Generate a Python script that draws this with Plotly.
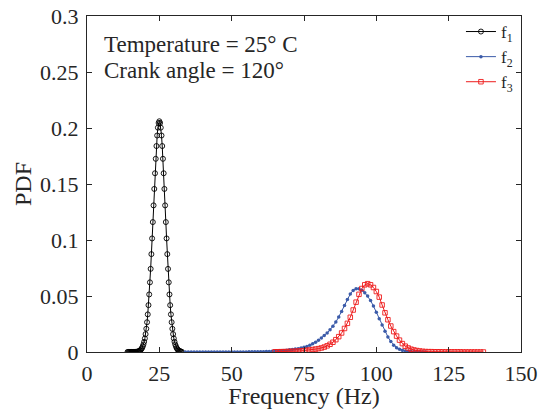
import numpy as np
import plotly.graph_objects as go

# PDF of the first three natural frequencies
# f1 sampled every 0.25 Hz from 14 Hz, f2 / f3 every 1 Hz
f1_pdf = [
    0, 0, 0, 0,
    0, 0, 0.00001, 0.00001,
    0.00002, 0.00004, 0.00006, 0.00009,
    0.00015, 0.00023, 0.00035, 0.00053,
    0.0008, 0.00118, 0.00171, 0.00246,
    0.00348, 0.00485, 0.00667, 0.00905,
    0.01211, 0.01596, 0.02074, 0.02657,
    0.03358, 0.04184, 0.05138, 0.06219,
    0.07424, 0.0874, 0.1014, 0.116,
    0.1309, 0.1456, 0.1596, 0.1725,
    0.1839, 0.1933, 0.2003, 0.2045,
    0.206, 0.2045, 0.2003, 0.1933,
    0.1839, 0.1725, 0.1596, 0.1456,
    0.1309, 0.116, 0.1014, 0.0874,
    0.0742, 0.0622, 0.0514, 0.0418,
    0.0336, 0.0266, 0.0207, 0.016,
    0.0121, 0.0091, 0.0067, 0.0049,
    0.0035, 0.0025, 0.0017, 0.0012,
    0.0008, 0.0005, 0.00035, 0.00023,
]
f2_pdf = [
    0, 0, 0, 0, 0, 0, 0, 0, 0, 0,
    0, 0, 0, 0, 0, 0, 0.0001, 0.0001, 0.0001, 0.0001,
    0.0001, 0.0001, 0.0002, 0.0002, 0.0002, 0.0003, 0.0003, 0.0003, 0.0004, 0.0005,
    0.0006, 0.0008, 0.0009, 0.0011, 0.0013, 0.0016, 0.0019, 0.0022, 0.0026, 0.0030,
    0.0035, 0.0042, 0.0050, 0.0061, 0.0073, 0.0088, 0.0106, 0.0125, 0.0147, 0.0170,
    0.0198, 0.0230, 0.0267, 0.0313, 0.0362, 0.0415, 0.0468, 0.0518, 0.0550, 0.0565,
    0.0564, 0.0552, 0.0530, 0.0500, 0.0460, 0.0410, 0.0355, 0.0297, 0.0240, 0.0185,
    0.0135, 0.0093, 0.0061, 0.0039, 0.0024, 0.0015, 0.0009, 0.0006, 0.0004, 0.0003,
    0.0002, 0.0001, 0.0001, 0.0,
]
f3_pdf = [
    0.0002, 0.0002, 0.0003, 0.0003, 0.0004, 0.0005, 0.0006, 0.0007, 0.0008, 0.0010,
    0.0012, 0.0015, 0.0018, 0.0022, 0.0026, 0.0030, 0.0036, 0.0044, 0.0055, 0.0069,
    0.0087, 0.0110, 0.0137, 0.0170, 0.0210, 0.0256, 0.0310, 0.0375, 0.0445, 0.0515,
    0.0567, 0.0600, 0.0610, 0.0600, 0.0576, 0.0540, 0.0490, 0.0420, 0.0350, 0.0288,
    0.0232, 0.0182, 0.0142, 0.0106, 0.0075, 0.0052, 0.0036, 0.0025, 0.0018, 0.0013,
    0.0009, 0.0006, 0.0004, 0.0003, 0.0003, 0.0002, 0.0002, 0.0002, 0.0001, 0.0001,
    0.0001, 0.0001, 0.0001, 0.0001, 0.0001, 0, 0, 0, 0, 0,
    0, 0, 0,
]

# frequency grids (start, step)
f1_hz = 14.0 + 0.25 * np.arange(len(f1_pdf))
f2_hz = 34.0 + 1.0 * np.arange(len(f2_pdf))
f3_hz = 65.0 + 1.0 * np.arange(len(f3_pdf))

x_ticks = [0, 25, 50, 75, 100, 125, 150]
y_ticks = [0, 0.05, 0.1, 0.15, 0.2, 0.25, 0.3]

ink = '#262626'
serif = 'Liberation Serif'

fig = go.Figure()
fig.add_trace(go.Scatter(
    x=f1_hz, y=f1_pdf, mode='lines+markers', name='f<sub>1</sub>',
    line=dict(color='black', width=1),
    marker=dict(symbol='circle-open', size=5, color='black', line=dict(width=0.9)),
))
fig.add_trace(go.Scatter(
    x=f2_hz, y=f2_pdf, mode='lines+markers', name='f<sub>2</sub>',
    line=dict(color='#3b5ba9', width=1),
    marker=dict(symbol='circle', size=3.5, color='#3b5ba9'),
))
fig.add_trace(go.Scatter(
    x=f3_hz, y=f3_pdf, mode='lines+markers', name='f<sub>3</sub>',
    line=dict(color='#ee1c1c', width=1),
    marker=dict(symbol='square-open', size=4.5, color='#ee1c1c', line=dict(width=0.9)),
))

axis_style = dict(
    showline=True, linecolor=ink, linewidth=1, mirror='ticks',
    ticks='inside', ticklen=5, tickcolor=ink, showgrid=False, zeroline=False,
    automargin=False, ticklabeloverflow='allow',
    tickfont=dict(family=serif, size=22, color=ink),
)

fig.update_layout(
    width=544, height=409,
    margin=dict(l=87, r=23, t=16, b=57),
    paper_bgcolor='white', plot_bgcolor='white',
    font=dict(family=serif, size=22, color=ink),
    xaxis=dict(range=[0, 150], tickvals=x_ticks, ticklabelstandoff=2,
               title=dict(text='Frequency (Hz)', standoff=3,
                          font=dict(family=serif, size=24, color=ink)),
               **axis_style),
    yaxis=dict(range=[0, 0.3], tickvals=y_ticks, ticklabelstandoff=3,
               title=dict(text='PDF', standoff=1,
                          font=dict(family=serif, size=24, color=ink)),
               **axis_style),
    legend=dict(x=0.993, xanchor='right', y=1.006, yanchor='top',
                bgcolor='rgba(0,0,0,0)', font=dict(family=serif, size=17, color=ink),
                tracegroupgap=0, itemwidth=30),
    showlegend=True,
)
fig.add_annotation(
    xref='paper', yref='paper', x=0.035, y=0.914, xanchor='left', yanchor='middle',
    text='Temperature = 25° C', showarrow=False,
    font=dict(family=serif, size=23, color=ink),
)
fig.add_annotation(
    xref='paper', yref='paper', x=0.035, y=0.839, xanchor='left', yanchor='middle',
    text='Crank angle = 120°', showarrow=False,
    font=dict(family=serif, size=23, color=ink),
)

# drop the default 8px body margin so the figure sits at the window corner
fig.write_html("out.html", config={'displayModeBar': False},
               post_script="document.body.style.margin='0';")
